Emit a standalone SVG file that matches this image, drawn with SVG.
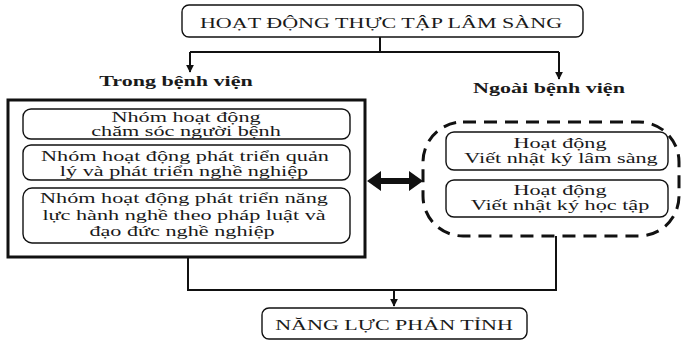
<svg xmlns="http://www.w3.org/2000/svg" width="682" height="341" viewBox="0 0 682 341">
<style>
.bg{fill:#fff}
.box{fill:#fff;stroke:#111;stroke-width:1.4}
.big{fill:none;stroke:#111;stroke-width:3}
.dash{fill:none;stroke:#111;stroke-width:3;stroke-dasharray:13 8}
.ln{fill:none;stroke:#111;stroke-width:2}
.t{font-family:"Liberation Serif","Times New Roman",serif;font-size:15px;fill:#1a1a1a;text-anchor:middle}
.b{font-weight:bold}
</style>
<defs>
<marker id="ah" viewBox="0 0 10 10" refX="9" refY="5" markerWidth="4" markerHeight="4" orient="auto" markerUnits="strokeWidth">
<path d="M0,0 L10,5 L0,10 z" fill="#111"/>
</marker>
</defs>
<rect class="bg" x="0" y="0" width="682" height="341"/>
<g id="connectors">
<path class="ln" d="M380,37 V52"/>
<path class="ln" d="M190,52 H559"/>
<path class="ln" d="M190,52 V72" marker-end="url(#ah)"/>
<path class="ln" d="M559,52 V79" marker-end="url(#ah)"/>
<path class="ln" d="M188,257 V290 H556 V236"/>
<path class="ln" d="M394,290 V306" marker-end="url(#ah)"/>
<polygon points="367,181 381,171 381,178 409,178 409,171 423,181 409,191 409,184 381,184 381,191" fill="#111"/>
</g>
<g id="top">
<rect class="box" x="182" y="5" width="401" height="32" rx="7"/>
<text class="t" transform="translate(381,28) scale(1.47,1)">HOẠT ĐỘNG THỰC TẬP LÂM SÀNG</text>
</g>
<g id="label-trong">
<text class="t b" transform="translate(176,86) scale(1.47,1)">Trong bệnh viện</text>
</g>
<g id="label-ngoai">
<text class="t b" transform="translate(549,93) scale(1.47,1)">Ngoài bệnh viện</text>
</g>
<g id="trong">
<rect class="big" x="8" y="100" width="357" height="157"/>
<g id="n1">
<rect class="box" x="23" y="109" width="327" height="30" rx="8"/>
<text class="t" transform="translate(186,122) scale(1.48,1)">Nhóm hoạt động</text>
<text class="t" transform="translate(186,136) scale(1.48,1)">chăm sóc người bệnh</text>
</g>
<g id="n2">
<rect class="box" x="23" y="145" width="327" height="35" rx="8"/>
<text class="t" transform="translate(185,161) scale(1.48,1)">Nhóm hoạt động phát triển quản</text>
<text class="t" transform="translate(184,176) scale(1.48,1)">lý và phát triển nghề nghiệp</text>
</g>
<g id="n3">
<rect class="box" x="23" y="188" width="327" height="55" rx="9"/>
<text class="t" transform="translate(184,203) scale(1.48,1)">Nhóm hoạt động phát triển năng</text>
<text class="t" transform="translate(184,220) scale(1.48,1)">lực hành nghề theo pháp luật và</text>
<text class="t" transform="translate(182,236) scale(1.48,1)">đạo đức nghề nghiệp</text>
</g>
</g>
<g id="ngoai">
<rect class="dash" x="423" y="122" width="256" height="114" rx="40"/>
<g id="n4">
<rect class="box" x="446" y="132" width="222" height="38" rx="8"/>
<text class="t" transform="translate(560,148) scale(1.48,1)">Hoạt động</text>
<text class="t" transform="translate(561,163) scale(1.48,1)">Viết nhật ký lâm sàng</text>
</g>
<g id="n5">
<rect class="box" x="446" y="180" width="222" height="37" rx="8"/>
<text class="t" transform="translate(560,195) scale(1.48,1)">Hoạt động</text>
<text class="t" transform="translate(560,210) scale(1.48,1)">Viết nhật ký học tập</text>
</g>
</g>
<g id="bottom">
<rect class="box" x="262" y="308" width="265" height="31" rx="7"/>
<text class="t" transform="translate(394,330) scale(1.47,1)">NĂNG LỰC PHẢN TỈNH</text>
</g>
</svg>
